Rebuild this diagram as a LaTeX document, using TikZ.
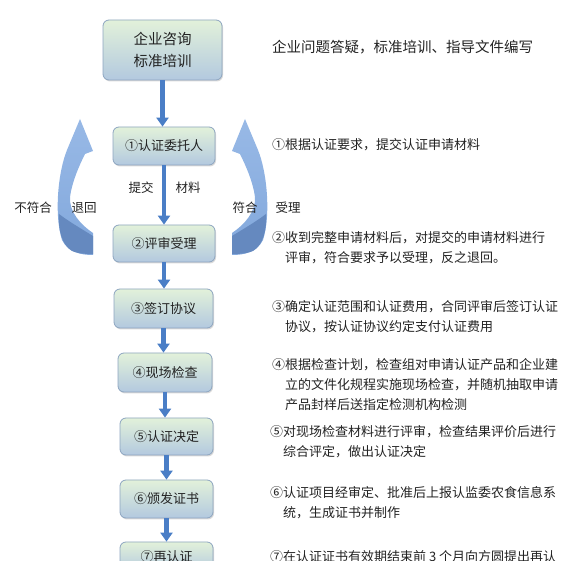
\documentclass[tikz,border=0pt]{standalone}
\usepackage{fontspec}
\setmainfont{Noto Sans CJK SC}
\usetikzlibrary{arrows.meta,shadows}
\definecolor{ink}{HTML}{222222}
\definecolor{flow}{HTML}{4A7EC6}
\definecolor{boxtop}{HTML}{E2F1DA}
\definecolor{boxbot}{HTML}{B3C9DF}
\definecolor{boxline}{HTML}{8DA5C0}
\definecolor{arrowlight}{HTML}{98B9E6}
\definecolor{arrowmid}{HTML}{82A8DC}
\definecolor{arrowdark}{HTML}{6589BF}

\begin{document}
\begin{tikzpicture}[x=1pt,y=-1pt,
    stage/.style={draw=boxline,line width=0.8pt,rounded corners=6pt,top color=boxtop,bottom color=boxbot,
        drop shadow={shadow xshift=1pt,shadow yshift=-1.5pt,opacity=0.3},
        minimum width=94pt,minimum height=38pt,inner sep=0pt,align=center,text=ink,
        font=\fontsize{13}{16}\selectfont},
    flowarrow/.style={flow,line width=4.5pt,-{Triangle[width=12pt,length=9pt]}},
    note/.style={anchor=north west,inner sep=0pt,align=left,text=ink,font=\fontsize{13}{20}\selectfont},
    tag/.style={inner sep=0pt,text=ink,font=\fontsize{12.5}{14}\selectfont}]
    \useasboundingbox (0,0) rectangle (571,561);
    \clip (0,0) rectangle (571,561);

    % curved arrows beside the first two steps
    \shade[top color=arrowlight,bottom color=arrowmid](245,119)--(258,150)
        .. controls (267,172) and (271,215) .. (263,240)
        .. controls (257,252) and (245,255) .. (232,255)--(232,233)
        .. controls (244,225) and (256,212) .. (255,197)
        .. controls (253,182) and (246,166) .. (240,154)--(232,151)--cycle;
    \fill[arrowdark](232,236) .. controls (245,228) and (257,221) .. (266,214)
        .. controls (267,230) and (263,245) .. (253,251)
        .. controls (245,254) and (238,254) .. (232,254)--cycle;
    \begin{scope}[shift={(325,0)},xscale=-1]
        \shade[top color=arrowlight,bottom color=arrowmid](245,119)--(258,150)
            .. controls (267,172) and (271,215) .. (263,240)
            .. controls (257,252) and (245,255) .. (232,255)--(232,233)
            .. controls (244,225) and (256,212) .. (255,197)
            .. controls (253,182) and (246,166) .. (240,154)--(232,151)--cycle;
        \fill[arrowdark](232,236) .. controls (245,228) and (257,221) .. (266,214)
            .. controls (267,230) and (263,245) .. (253,251)
            .. controls (245,254) and (238,254) .. (232,254)--cycle;
    \end{scope}

    % steps
    \node[stage,minimum width=119pt,minimum height=60pt,font=\fontsize{14.5}{22}\selectfont](consult)at(162.5,50){企业咨询\\标准培训};
    \node[stage,minimum width=102pt](s1)at(164,146){①认证委托人};
    \node[stage,minimum width=102pt,minimum height=37pt](s2)at(164,243.5){②评审受理};
    \node[stage,minimum width=99pt,minimum height=39pt](s3)at(163.5,308.5){③签订协议};
    \node[stage,minimum height=39pt](s4)at(165,372.5){④现场检查};
    \node[stage,minimum width=93pt,minimum height=37pt](s5)at(166.5,436.5){⑤认证决定};
    \node[stage,minimum width=93pt](s6)at(166.5,499){⑥颁发证书};
    \node[stage,minimum width=93pt,minimum height=30pt](s7)at(166.5,557){⑦再认证};

    \draw[flowarrow](consult.south)--(consult.south |- s1.north);
    \draw[flowarrow](s1.south)--(s1.south |- s2.north);
    \draw[flowarrow](s2.south)--(s2.south |- s3.north);
    \draw[flowarrow](s3.south)--(s3.south |- s4.north);
    \draw[flowarrow](s4.south)--(s4.south |- s5.north);
    \draw[flowarrow](s5.south)--(s5.south |- s6.north);
    \draw[flowarrow](s6.south)--(s6.south |- s7.north);

    \node[tag](submit)at(141,188){提交};
    \node[tag](material)at(188,188){材料};
    \node[tag](reject)at(33,208){不符合};
    \node[tag](back)at(84,208){退回};
    \node[tag](accord)at(245,208){符合};
    \node[tag](accept)at(288,208){受理};

    % notes on the right
    \node[note,font=\fontsize{14.5}{20}\selectfont](n0)at(272,40){企业问题答疑，标准培训、指导文件编写};
    \node[note](n1)at(272,138.5){①根据认证要求，提交认证申请材料};
    \node[note](n2)at(272,231.5){②收到完整申请材料后，对提交的申请材料进行\\\hspace*{1em}评审，符合要求予以受理，反之退回。};
    \node[note](n3)at(272,300.5){③确定认证范围和认证费用，合同评审后签订认证\\\hspace*{1em}协议，按认证协议约定支付认证费用};
    \node[note](n4)at(272,358.5){④根据检查计划，检查组对申请认证产品和企业建\\\hspace*{1em}立的文件化规程实施现场检查，并随机抽取申请\\\hspace*{1em}产品封样后送指定检测机构检测};
    \node[note](n5)at(270,425.5){⑤对现场检查材料进行评审，检查结果评价后进行\\\hspace*{1em}综合评定，做出认证决定};
    \node[note](n6)at(270,486.5){⑥认证项目经审定、批准后上报认监委农食信息系\\\hspace*{1em}统，生成证书并制作};
    \node[note](n7)at(270,550.5){⑦在认证证书有效期结束前 3 个月向方圆提出再认};
\end{tikzpicture}
\end{document}
